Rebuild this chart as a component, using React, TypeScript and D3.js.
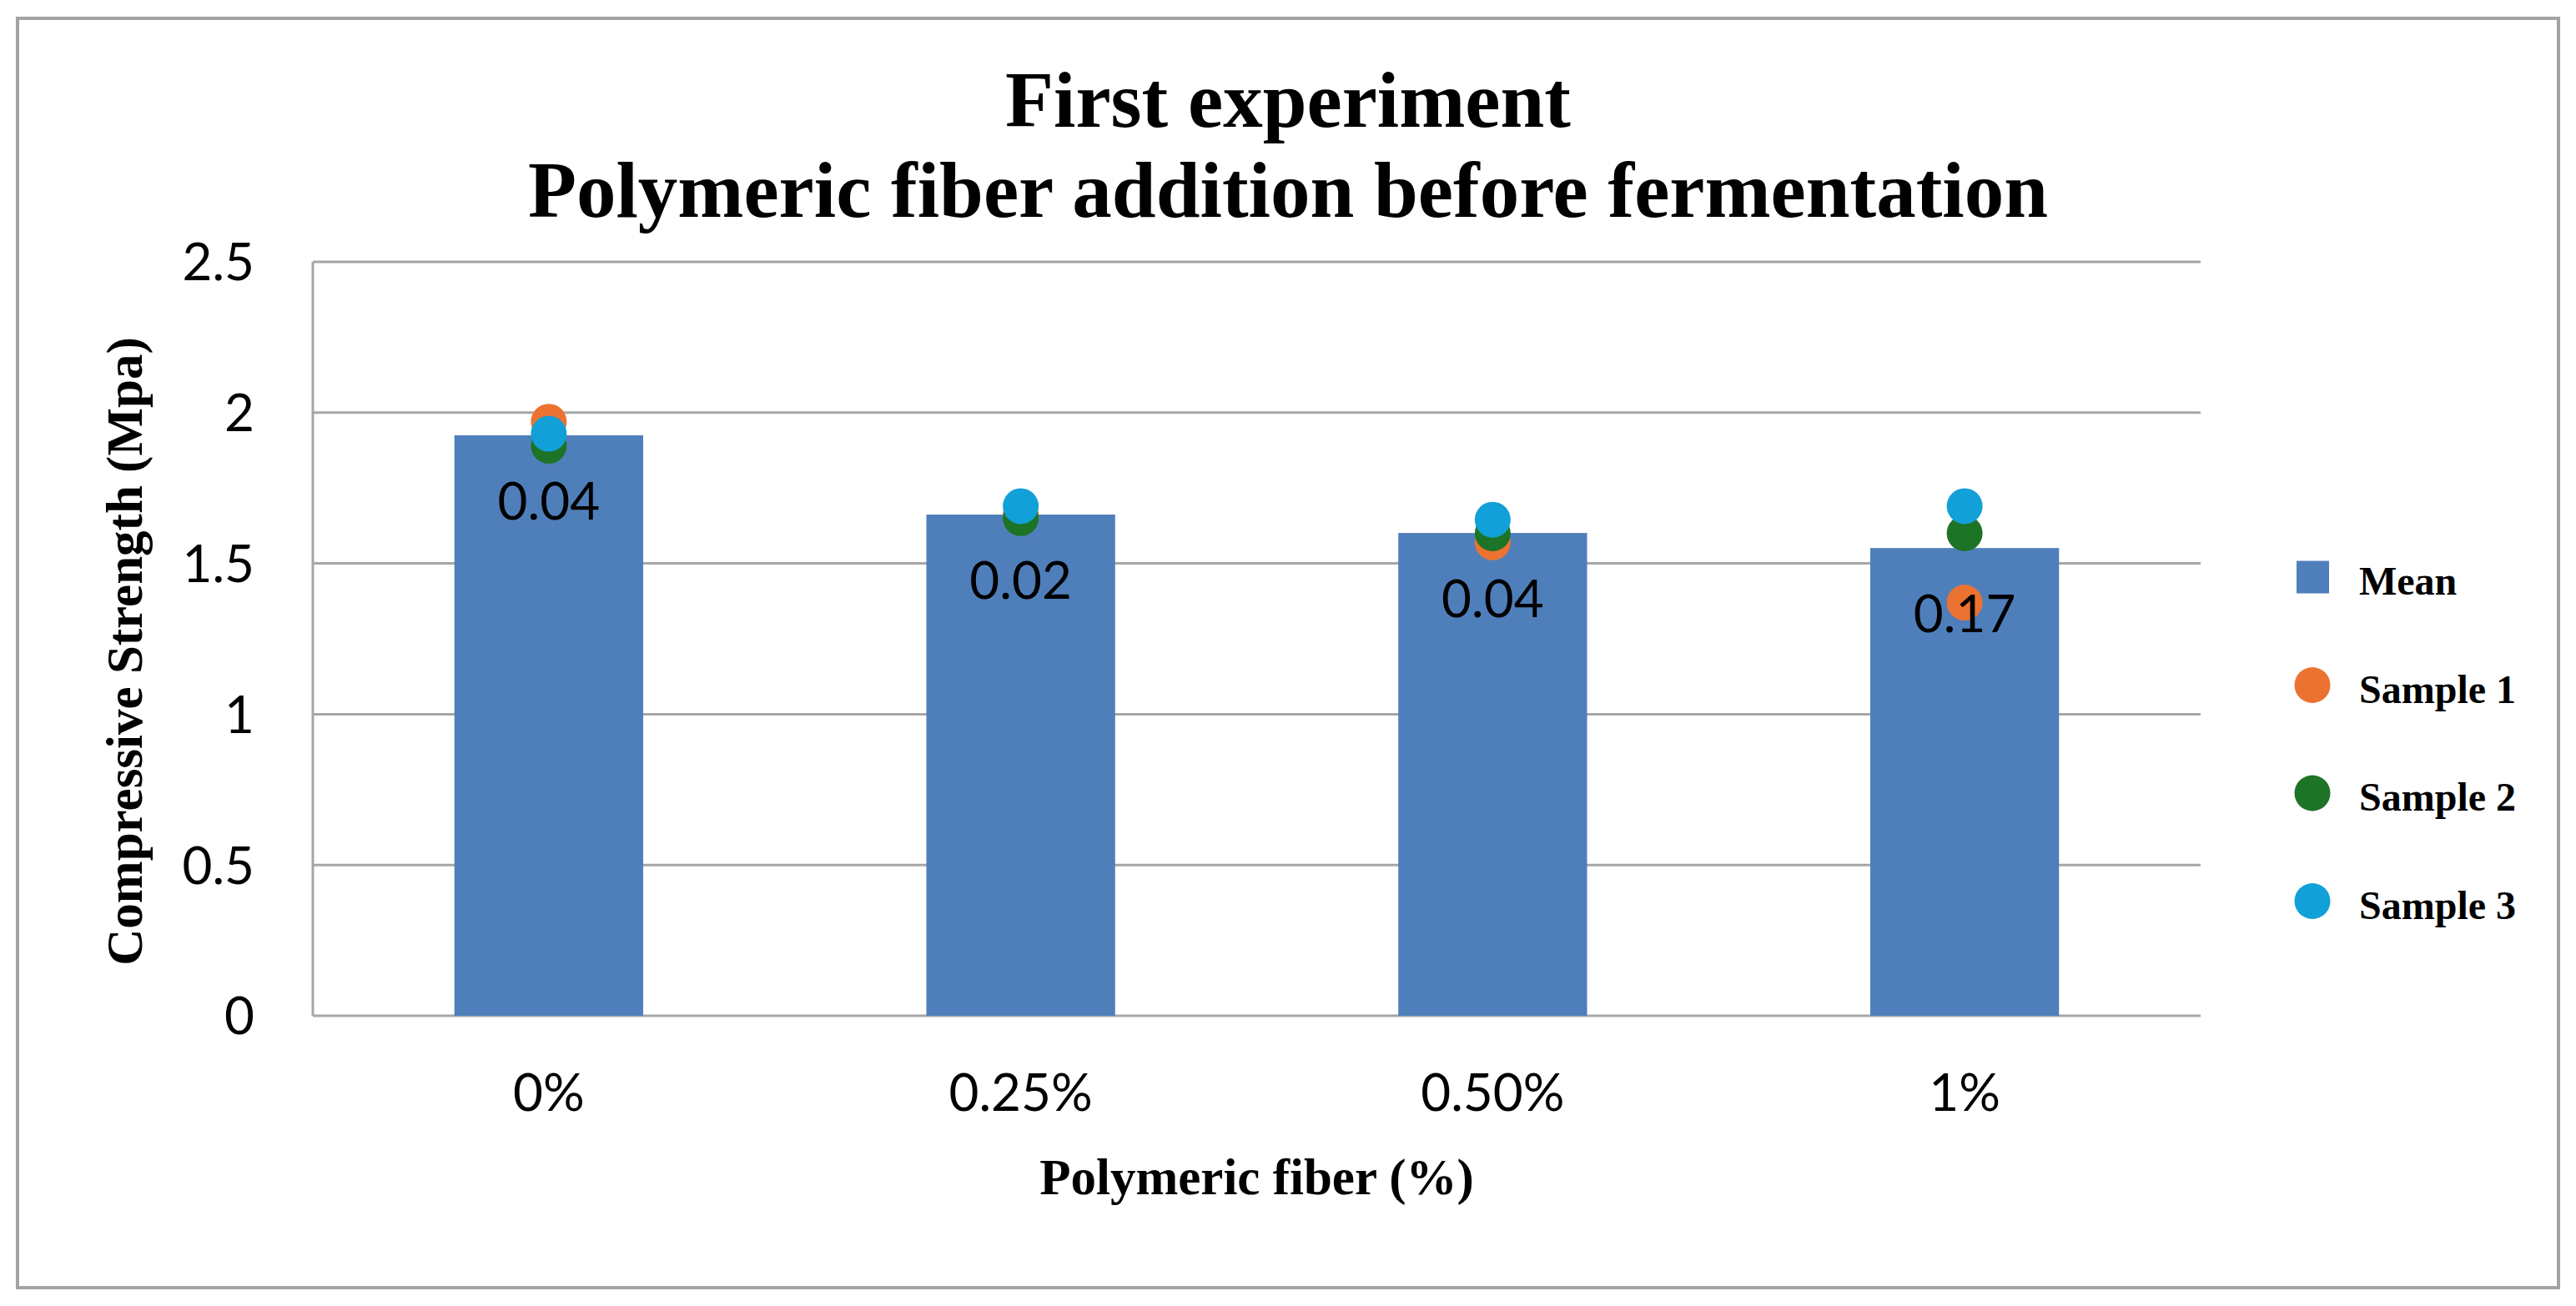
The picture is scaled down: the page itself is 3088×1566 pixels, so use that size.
import React from 'react';
import * as d3 from 'd3';

const categories = ['0%', '0.25%', '0.50%', '1%'];
const meanValues = [1.925, 1.662, 1.601, 1.551];
const sample1 = [1.97, 1.66, 1.57, 1.37];
const sample2 = [1.89, 1.65, 1.6, 1.6];
const sample3 = [1.93, 1.69, 1.645, 1.69];
const sdLabels = ['0.04', '0.02', '0.04', '0.17'];
const yTicks = [0, 0.5, 1, 1.5, 2, 2.5];

const legendItems = [
  { label: 'Mean', color: '#4f7fbb', shape: 'square' },
  { label: 'Sample 1', color: '#ec7231', shape: 'circle' },
  { label: 'Sample 2', color: '#1d7326', shape: 'circle' },
  { label: 'Sample 3', color: '#11a0d8', shape: 'circle' },
];

const W = 3088;
const H = 1566;
const serif = '"Liberation Serif", "Times New Roman", serif';
const sans = 'Lato, "Open Sans", sans-serif';

export default function App() {
  const plot = { left: 375, right: 2638, top: 314, bottom: 1218 };

  const x = d3
    .scaleBand<string>()
    .domain(categories)
    .range([plot.left, plot.right])
    .paddingInner(0.6)
    .paddingOuter(0.3);

  const y = d3.scaleLinear().domain([0, 2.5]).range([plot.bottom, plot.top]);

  const center = (c: string) => (x(c) ?? 0) + x.bandwidth() / 2;

  const samples = [sample1, sample2, sample3];
  const sampleColors = [legendItems[1].color, legendItems[2].color, legendItems[3].color];

  return (
    <div style={{ position: 'fixed', left: 0, top: 0, background: '#fff' }}>
      <svg width={W} height={H} style={{ display: 'block' }}>
        <rect x={0} y={0} width={W} height={H} fill="#fff" />
        {/* outer frame */}
        <rect x={21} y={22} width={3046} height={1522} fill="none" stroke="#a3a3a3" strokeWidth={4} />

        {/* title */}
        <text x={1544} y={152} textAnchor="middle" fontFamily={serif} fontWeight="bold" fontSize={95}>
          First experiment
        </text>
        <text x={1544} y={260} textAnchor="middle" fontFamily={serif} fontWeight="bold" fontSize={95}>
          Polymeric fiber addition before fermentation
        </text>

        {/* grid lines */}
        {yTicks.map((t) => (
          <line
            key={'g' + t}
            x1={plot.left}
            x2={plot.right}
            y1={y(t)}
            y2={y(t)}
            stroke="#a6a6a6"
            strokeWidth={3}
          />
        ))}
        <line x1={plot.left} x2={plot.left} y1={plot.top} y2={plot.bottom} stroke="#a6a6a6" strokeWidth={3} />

        {/* y tick labels */}
        {yTicks.map((t) => (
          <text
            key={'yl' + t}
            x={305}
            y={y(t)}
            dy="0.36em"
            textAnchor="end"
            fontFamily={sans}
            fontSize={62}
            fill="#000"
          >
            {String(t)}
          </text>
        ))}

        {/* bars */}
        {categories.map((c, i) => (
          <rect
            key={'b' + c}
            x={x(c)}
            y={y(meanValues[i])}
            width={x.bandwidth()}
            height={y(0) - y(meanValues[i])}
            fill={legendItems[0].color}
          />
        ))}

        {/* sample points */}
        {samples.map((s, si) =>
          categories.map((c, i) => (
            <circle key={`s${si}-${c}`} cx={center(c)} cy={y(s[i])} r={21.5} fill={sampleColors[si]} />
          ))
        )}

        {/* std dev labels */}
        {categories.map((c, i) => (
          <text
            key={'sd' + c}
            x={center(c)}
            y={y(meanValues[i]) + 101}
            textAnchor="middle"
            fontFamily={sans}
            fontSize={62}
            fill="#000"
          >
            {sdLabels[i]}
          </text>
        ))}

        {/* x tick labels */}
        {categories.map((c) => (
          <text key={'xl' + c} x={center(c)} y={1332} textAnchor="middle" fontFamily={sans} fontSize={62}>
            {c}
          </text>
        ))}

        {/* axis titles */}
        <text x={(plot.left + plot.right) / 2} y={1432} textAnchor="middle" fontFamily={serif} fontWeight="bold" fontSize={61}>
          Polymeric fiber (%)
        </text>
        <text
          transform={`translate(170, ${(plot.top + plot.bottom) / 2 + 15}) rotate(-90)`}
          textAnchor="middle"
          fontFamily={serif}
          fontWeight="bold"
          fontSize={61}
        >
          Compressive Strength (Mpa)
        </text>

        {/* legend */}
        {legendItems.map((item, i) => {
          const cy = 692 + i * 129.5;
          return (
            <g key={item.label}>
              {item.shape === 'square' ? (
                <rect x={2753} y={cy - 19.5} width={39} height={39} fill={item.color} />
              ) : (
                <circle cx={2772} cy={cy} r={21.5} fill={item.color} />
              )}
              <text x={2828} y={cy + 21} fontFamily={serif} fontWeight="bold" fontSize={48}>
                {item.label}
              </text>
            </g>
          );
        })}
      </svg>
    </div>
  );
}
